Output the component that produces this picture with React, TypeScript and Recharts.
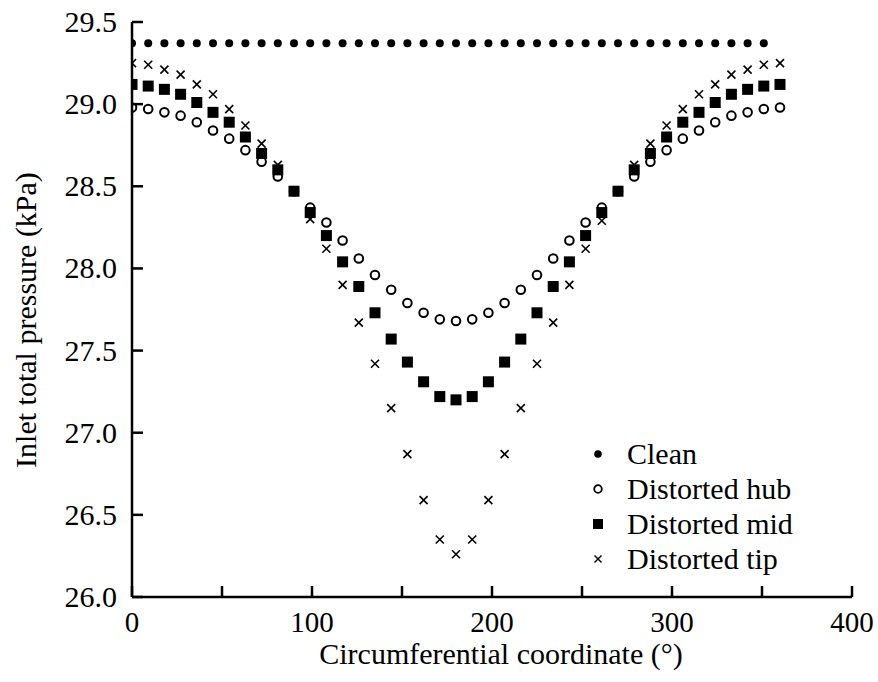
import React from "react";
import { ScatterChart, Scatter, XAxis, YAxis, Legend } from "recharts";

const cleanX = [0, 9, 18, 27, 36, 45, 54, 63, 72, 81, 90, 99, 108, 117, 126, 135, 144, 153, 162, 171, 180, 189, 198, 207, 216, 225, 234, 243, 252, 261, 270, 279, 288, 297, 306, 315, 324, 333, 342, 351];
const cleanY = cleanX.map(() => 29.37);

const distX = [0, 9, 18, 27, 36, 45, 54, 63, 72, 81, 90, 99, 108, 117, 126, 135, 144, 153, 162, 171, 180, 189, 198, 207, 216, 225, 234, 243, 252, 261, 270, 279, 288, 297, 306, 315, 324, 333, 342, 351, 360];
const hubY = [28.98, 28.97, 28.95, 28.93, 28.89, 28.84, 28.79, 28.72, 28.65, 28.56, 28.47, 28.37, 28.28, 28.17, 28.06, 27.96, 27.87, 27.79, 27.73, 27.69, 27.68, 27.69, 27.73, 27.79, 27.87, 27.96, 28.06, 28.17, 28.28, 28.37, 28.47, 28.56, 28.65, 28.72, 28.79, 28.84, 28.89, 28.93, 28.95, 28.97, 28.98];
const midY = [29.12, 29.11, 29.09, 29.06, 29.01, 28.95, 28.89, 28.8, 28.7, 28.6, 28.47, 28.34, 28.2, 28.04, 27.89, 27.73, 27.57, 27.43, 27.31, 27.22, 27.2, 27.22, 27.31, 27.43, 27.57, 27.73, 27.89, 28.04, 28.2, 28.34, 28.47, 28.6, 28.7, 28.8, 28.89, 28.95, 29.01, 29.06, 29.09, 29.11, 29.12];
const tipY = [29.25, 29.24, 29.21, 29.18, 29.12, 29.06, 28.97, 28.87, 28.76, 28.63, 28.47, 28.3, 28.12, 27.9, 27.67, 27.42, 27.15, 26.87, 26.59, 26.35, 26.26, 26.35, 26.59, 26.87, 27.15, 27.42, 27.67, 27.9, 28.12, 28.29, 28.47, 28.63, 28.76, 28.87, 28.97, 29.06, 29.12, 29.18, 29.21, 29.24, 29.25];

const xTicks = [0, 50, 100, 150, 200, 250, 300, 350, 400];
const xLabels = ["0", "", "100", "", "200", "", "300", "", "400"];
const yTicks = [26.0, 26.5, 27.0, 27.5, 28.0, 28.5, 29.0, 29.5];

const seriesNames = ["Clean", "Distorted hub", "Distorted mid", "Distorted tip"];

const cleanData = cleanX.map((x, i) => ({ x, y: cleanY[i] }));
const hubData = distX.map((x, i) => ({ x, y: hubY[i] }));
const midData = distX.map((x, i) => ({ x, y: midY[i] }));
const tipData = distX.map((x, i) => ({ x, y: tipY[i] }));

const FONT = "'Liberation Serif', 'Times New Roman', serif";

const DotShape = (p: any) => <circle cx={p.cx} cy={p.cy} r={4} fill="#000" />;
const HubShape = (p: any) => (
  <circle cx={p.cx} cy={p.cy} r={4.3} fill="none" stroke="#000" strokeWidth={2} />
);
const MidShape = (p: any) => (
  <rect x={p.cx - 5.5} y={p.cy - 5.5} width={11} height={11} fill="#000" />
);
const TipShape = (p: any) => (
  <g stroke="#000" strokeWidth={1.6}>
    <line x1={p.cx - 4} y1={p.cy - 4} x2={p.cx + 4} y2={p.cy + 4} />
    <line x1={p.cx - 4} y1={p.cy + 4} x2={p.cx + 4} y2={p.cy - 4} />
  </g>
);

const XTick = (props: any) => {
  const { x, y, index } = props;
  return (
    <g>
      <line x1={x} y1={y} x2={x} y2={y - 11} stroke="#000" strokeWidth={2.5} />
      <text x={x} y={y + 35} textAnchor="middle" style={{ fontFamily: FONT }} fontSize={29} fill="#000">
        {xLabels[index]}
      </text>
    </g>
  );
};

const YTick = (props: any) => {
  const { x, y, payload } = props;
  return (
    <g>
      <line x1={x} y1={y} x2={x + 11} y2={y} stroke="#000" strokeWidth={2.5} />
      <text x={x - 15} y={y + 10} textAnchor="end" style={{ fontFamily: FONT }} fontSize={30} fill="#000">
        {Number(payload.value).toFixed(1)}
      </text>
    </g>
  );
};

const YLabel = () => (
  <text
    transform="translate(36, 320) rotate(-90)"
    textAnchor="middle"
    style={{ fontFamily: FONT }}
    fontSize={30}
    fill="#000"
  >
    Inlet total pressure (kPa)
  </text>
);

const XLabel = () => (
  <text x={501} y={664} textAnchor="middle" style={{ fontFamily: FONT }} fontSize={30} fill="#000">
    Circumferential coordinate (°)
  </text>
);

const legendIcons = [
  (cx: number, cy: number) => <circle cx={cx} cy={cy} r={3.8} fill="#000" />,
  (cx: number, cy: number) => <circle cx={cx} cy={cy} r={3.8} fill="none" stroke="#000" strokeWidth={1.8} />,
  (cx: number, cy: number) => <rect x={cx - 5} y={cy - 5} width={10} height={10} fill="#000" />,
  (cx: number, cy: number) => (
    <g stroke="#000" strokeWidth={1.4}>
      <line x1={cx - 3.5} y1={cy - 3.5} x2={cx + 3.5} y2={cy + 3.5} />
      <line x1={cx - 3.5} y1={cy + 3.5} x2={cx + 3.5} y2={cy - 3.5} />
    </g>
  ),
];

const LegendContent = () => (
  <div style={{ fontFamily: FONT, fontSize: 30, color: "#000", lineHeight: "35px" }}>
    {seriesNames.map((n, i) => (
      <div key={n} style={{ display: "flex", alignItems: "center", height: 35 }}>
        <svg width={30} height={20} style={{ marginRight: 14 }}>
          {legendIcons[i](15, 10)}
        </svg>
        <span>{n}</span>
      </div>
    ))}
  </div>
);

export default function App() {
  return (
    <div style={{ position: "absolute", left: 0, top: 0, width: 878, height: 682, background: "#fff", fontFamily: FONT }}>
      <ScatterChart width={878} height={682} margin={{ top: 22, right: 26, bottom: 55, left: 0 }}>
        <XAxis
          type="number"
          dataKey="x"
          domain={[0, 400]}
          ticks={xTicks}
          interval={0}
          height={30}
          tickSize={0}
          tickMargin={0}
          tick={<XTick />}
          axisLine={{ stroke: "#000", strokeWidth: 2.5 }}
          tickLine={false}
          allowDataOverflow
          label={<XLabel />}
        />
        <YAxis
          type="number"
          dataKey="y"
          domain={[26, 29.5]}
          ticks={yTicks}
          interval={0}
          width={132}
          tickSize={0}
          tickMargin={0}
          tick={<YTick />}
          axisLine={{ stroke: "#000", strokeWidth: 2.5 }}
          tickLine={false}
          allowDataOverflow
          label={<YLabel />}
        />
        <Legend
          layout="horizontal"
          verticalAlign="middle"
          align="center"
          content={<LegendContent />}
          wrapperStyle={{ position: "absolute", left: 583, top: 436, width: 270 }}
        />
        <Scatter name={seriesNames[0]} data={cleanData} shape={DotShape} isAnimationActive={false} />
        <Scatter name={seriesNames[1]} data={hubData} shape={HubShape} isAnimationActive={false} />
        <Scatter name={seriesNames[2]} data={midData} shape={MidShape} isAnimationActive={false} />
        <Scatter name={seriesNames[3]} data={tipData} shape={TipShape} isAnimationActive={false} />
      </ScatterChart>
    </div>
  );
}
